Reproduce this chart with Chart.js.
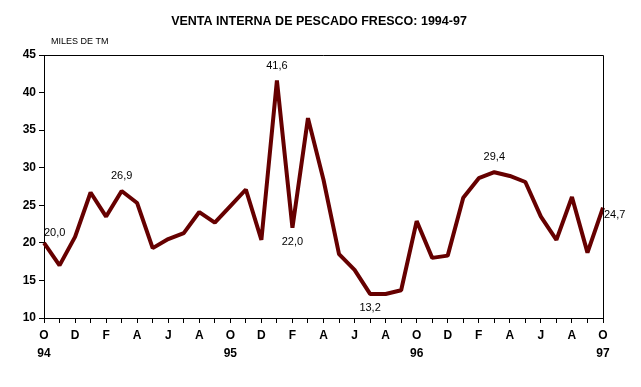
<!DOCTYPE html>
<html>
<head>
<meta charset="utf-8">
<script src="https://cdn.jsdelivr.net/npm/chart.js@4/dist/chart.umd.min.js"></script>
<style>
  html, body { margin: 0; padding: 0; background: #fff; }
  #wrap { width: 641px; height: 387px; }
</style>
</head>
<body>
<div id="wrap"><canvas id="chart" width="641" height="387"></canvas></div>
<script>
// months Oct 1994 .. Oct 1997
var months = ['O','N','D','E','F','M','A','M','J','J','A','S',
              'O','N','D','E','F','M','A','M','J','J','A','S',
              'O','N','D','E','F','M','A','M','J','J','A','S','O'];
var years = {0: '94', 12: '95', 24: '96', 36: '97'};
var venta = [20.0, 17.0, 20.8, 26.7, 23.5, 26.9, 25.3, 19.3, 20.5, 21.3, 24.1, 22.7,
             24.9, 27.1, 20.4, 41.6, 22.0, 36.6, 28.4, 18.5, 16.4, 13.2, 13.2, 13.7,
             22.9, 18.0, 18.3, 26.0, 28.6, 29.4, 28.9, 28.1, 23.5, 20.4, 26.1, 18.7, 24.7];
// labelled points: index -> position
var marcas = {0: 'tr', 5: 'top', 15: 'top', 16: 'bottom', 21: 'bottom', 29: 'top', 36: 'right'};

var extras = {
  id: 'extras',
  afterDraw: function(chart) {
    var ctx = chart.ctx, a = chart.chartArea;
    ctx.save();
    // box around plot
    ctx.strokeStyle = '#000';
    ctx.lineWidth = 1;
    ctx.beginPath();
    ctx.moveTo(a.left, a.top + 0.5);
    ctx.lineTo(a.right + 0.5, a.top + 0.5);
    ctx.lineTo(a.right + 0.5, a.bottom);
    ctx.stroke();
    // title
    ctx.fillStyle = '#000';
    ctx.font = 'bold 12.5px "Liberation Sans", Arial, sans-serif';
    ctx.textAlign = 'center';
    ctx.textBaseline = 'middle';
    ctx.fillText('VENTA INTERNA DE PESCADO FRESCO: 1994-97', 319, 22);
    ctx.font = '9px "Liberation Sans", Arial, sans-serif';
    ctx.textAlign = 'left';
    ctx.fillText('MILES DE TM', a.left + 7, 42);
    // value labels
    ctx.font = '11px "Liberation Sans", Arial, sans-serif';
    var pts = chart.getDatasetMeta(0).data;
    Object.keys(marcas).forEach(function(k) {
      var i = +k, p = pts[i], pos = marcas[k];
      var txt = venta[i].toFixed(1).replace('.', ',');
      if (pos === 'top') { ctx.textAlign = 'center'; ctx.fillText(txt, p.x, p.y - 15); }
      else if (pos === 'bottom') { ctx.textAlign = 'center'; ctx.fillText(txt, p.x, p.y + 14); }
      else if (pos === 'right') { ctx.textAlign = 'left'; ctx.fillText(txt, p.x + 1, p.y + 7); }
      else { ctx.textAlign = 'left'; ctx.fillText(txt, p.x, p.y - 10); }
    });
    ctx.restore();
  }
};

new Chart(document.getElementById('chart').getContext('2d'), {
  type: 'line',
  data: {
    labels: months,
    datasets: [{
      data: venta,
      borderColor: '#660000',
      borderWidth: 4,
      borderJoinStyle: 'bevel',
      pointRadius: 0,
      tension: 0,
      fill: false
    }]
  },
  options: {
    responsive: false,
    animation: false,
    layout: { padding: { top: 55, right: 38, left: 0, bottom: 0 } },
    plugins: { legend: { display: false }, title: { display: false }, tooltip: { enabled: false } },
    scales: {
      x: {
        offset: false,
        grid: { display: true, drawOnChartArea: false, drawTicks: true, tickLength: 5, color: '#000' },
        border: { display: true, color: '#000', width: 1 },
        ticks: {
          autoSkip: false, maxRotation: 0, minRotation: 0, padding: 4, color: '#000',
          font: { family: '"Liberation Sans", Arial, sans-serif', size: 12, weight: 'bold', lineHeight: 1.5 },
          callback: function(v, i) {
            if (i % 2) return '';
            return years[i] ? [months[i], years[i]] : months[i];
          }
        },
        afterFit: function(s) { s.height = 69; }
      },
      y: {
        min: 10, max: 45,
        grid: { display: true, drawOnChartArea: false, drawTicks: true, tickLength: 5, color: '#000' },
        border: { display: true, color: '#000', width: 1 },
        ticks: {
          stepSize: 5, padding: 3, color: '#000',
          font: { family: '"Liberation Sans", Arial, sans-serif', size: 12, weight: 'bold' }
        },
        afterFit: function(s) { s.width = 44; }
      }
    }
  },
  plugins: [extras]
});
</script>
</body>
</html>
